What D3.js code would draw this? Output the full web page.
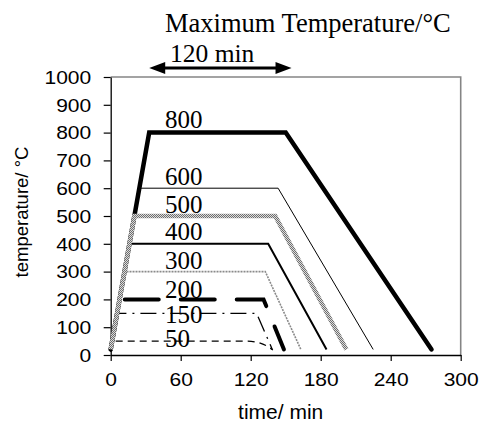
<!DOCTYPE html>
<html>
<head>
<meta charset="utf-8">
<script src="https://cdn.jsdelivr.net/npm/d3@7/dist/d3.min.js"></script>
<style>
body { margin: 0; background: #fff; }
</style>
</head>
<body>
<svg id="chart" width="483" height="429"></svg>
<script>

// heating / holding / cooling profiles, one per maximum temperature
var maxTemps = [800, 600, 500, 400, 300, 200, 150, 50];

var profileTimes = [
	[0, 33, 150, 275],
	[0, 24.5, 143.5, 225],
	[0, 20.3, 141, 202],
	[0, 16.1, 135, 185],
	[0, 11.9, 132.5, 163],
	[0, 7.6, 131, 148.5],
	[0, 5.5, 125, 138.5],
	[0, 1.3, 117, 127, 134, 139]
];

var profileTemps = [
	[20, 800, 800, 20],
	[20, 600, 600, 20],
	[20, 500, 500, 20],
	[20, 400, 400, 20],
	[20, 300, 300, 20],
	[20, 200, 200, 20],
	[20, 150, 150, 20],
	[20, 50, 50, 44, 32, 18]
];

var timeTicks = [0, 60, 120, 180, 240, 300];
var tempTicks = [0, 100, 200, 300, 400, 500, 600, 700, 800, 900, 1000];

// the "120 min" hold marker, in minutes
var holdStart = 33;
var holdEnd = 155;


var Chart = {

	SERIF: "'Liberation Serif', 'Times New Roman', serif",
	SANS: "'Liberation Sans', Arial, sans-serif",

	LEFT: 110.7,
	RIGHT: 460.7,
	TOP: 77,
	BOTTOM: 355,

	TICK_SCALE: 1.2,

	// drawn in this order, 500 goes on top like in the original
	DRAW_ORDER: [800, 600, 400, 300, 200, 150, 50, 500],

	STYLES: {
		800: { stroke: "#000", width: 4.5, cap: "round" },
		600: { stroke: "#000", width: 1 },
		500: { stroke: "url(#checker)", width: 4.5 },
		400: { stroke: "#000", width: 2 },
		300: { stroke: "#8a8a8a", width: 1.6, dash: "2,1" },
		200: { stroke: "#000", width: 4, dash: "34,22", cap: "round", offset: 0 },
		150: { stroke: "#000", width: 1.3, dash: "16,6,2,6" },
		50:  { stroke: "#000", width: 1.3, dash: "7,5", smooth: true }
	},

	// label baseline shift from the plateau, px
	LABEL_SHIFT: { 800: -5, 600: -3, 500: -3, 400: -3.5, 300: -2.5, 200: -1.5, 150: 10, 50: 6 },
	LABEL_X: 165,

	render: function() {
		var svg = d3.select("#chart");

		var x = d3.scaleLinear().domain([0, 300]).range([this.LEFT, this.RIGHT]);
		var y = d3.scaleLinear().domain([0, 1000]).range([this.BOTTOM, this.TOP]);

		this.drawDefs(svg);
		this.drawFrame(svg);
		this.drawAxes(svg, x, y);
		this.drawProfiles(svg, x, y);
		this.drawLabels(svg, x, y);
		this.drawHoldArrow(svg, x);
	},

	drawDefs: function(svg) {
		var pat = svg.append("defs").append("pattern")
			.attr("id", "checker")
			.attr("width", 2).attr("height", 2)
			.attr("patternUnits", "userSpaceOnUse");
		pat.append("rect").attr("width", 2).attr("height", 2).attr("fill", "#dcdcdc");
		pat.append("rect").attr("width", 1).attr("height", 1).attr("fill", "#6e6e6e");
		pat.append("rect").attr("x", 1).attr("y", 1).attr("width", 1).attr("height", 1).attr("fill", "#6e6e6e");
	},

	drawFrame: function(svg) {
		svg.append("path")
			.attr("d", "M" + this.LEFT + "," + this.TOP + "H" + this.RIGHT + "V" + this.BOTTOM)
			.attr("fill", "none")
			.attr("stroke", "#858585")
			.attr("stroke-width", 1.6);
	},

	drawAxes: function(svg, x, y) {
		var me = this;

		var xAxis = svg.append("g")
			.attr("transform", "translate(0," + this.BOTTOM + ")")
			.call(d3.axisBottom(x).tickValues(timeTicks).tickFormat(d3.format("d"))
				.tickSize(6).tickSizeOuter(0));

		var yAxis = svg.append("g")
			.attr("transform", "translate(" + this.LEFT + ",0)")
			.call(d3.axisLeft(y).tickValues(tempTicks).tickFormat(d3.format("d"))
				.tickSize(7).tickSizeOuter(0));

		[xAxis, yAxis].forEach(function(g) {
			g.attr("font-family", null).attr("font-size", null);
			g.select(".domain").attr("stroke", "#000").attr("stroke-width", 1.3);
			g.selectAll(".tick line").attr("stroke", "#000").attr("stroke-width", 1.2);
			g.selectAll(".tick text")
				.attr("font-family", me.SANS)
				.attr("font-size", "17.5px")
				.attr("fill", "#000");
		});

		xAxis.selectAll(".tick text")
			.attr("y", 0).attr("dy", 0)
			.attr("transform", "translate(0,30.5) scale(" + this.TICK_SCALE + ",1)");

		yAxis.selectAll(".tick text")
			.attr("x", 0).attr("dy", "0.36em")
			.attr("transform", "translate(-19.5,0) scale(" + this.TICK_SCALE + ",1)");

		// axis titles
		svg.append("text")
			.attr("x", (this.LEFT + this.RIGHT) / 2 - 5)
			.attr("y", 419)
			.attr("text-anchor", "middle")
			.attr("font-family", this.SANS)
			.attr("font-size", "21px")
			.text("time/ min");

		svg.append("text")
			.attr("transform", "translate(28," + 212 + ") rotate(-90)")
			.attr("text-anchor", "middle")
			.attr("font-family", this.SANS)
			.attr("font-size", "18.5px")
			.text("temperature/ °C");
	},

	drawProfiles: function(svg, x, y) {
		var me = this;

		this.DRAW_ORDER.forEach(function(temp) {
			var i = maxTemps.indexOf(temp);
			var style = me.STYLES[temp];
			var pts = profileTimes[i].map(function(t, k) { return [t, profileTemps[i][k]]; });

			var line = d3.line()
				.x(function(d) { return x(d[0]); })
				.y(function(d) { return y(d[1]); })
				.curve(style.smooth ? d3.curveMonotoneX : d3.curveLinear);

			svg.append("path")
				.attr("d", line(pts))
				.attr("fill", "none")
				.attr("stroke", style.stroke)
				.attr("stroke-width", style.width)
				.attr("stroke-dasharray", style.dash || null)
				.attr("stroke-dashoffset", style.offset || null)
				.attr("stroke-linecap", style.cap || "butt")
				.attr("stroke-linejoin", "miter");
		});
	},

	drawLabels: function(svg, x, y) {
		var me = this;

		svg.selectAll("text.maxlabel")
			.data(maxTemps)
			.enter().append("text")
			.attr("class", "maxlabel")
			.attr("x", this.LABEL_X)
			.attr("y", function(d) { return y(d) + me.LABEL_SHIFT[d]; })
			.attr("font-family", this.SERIF)
			.attr("font-size", "25px")
			.attr("fill", "#000")
			.text(function(d) { return String(d); });

		svg.append("text")
			.attr("x", 165)
			.attr("y", 32)
			.attr("font-family", this.SERIF)
			.attr("font-size", "26.5px")
			.text("Maximum Temperature/°C");
	},

	drawHoldArrow: function(svg, x) {
		var ay = 68;
		var x0 = x(holdStart);
		var x1 = x(holdEnd);
		var headLen = 16, headHalf = 6;

		svg.append("text")
			.attr("x", 170)
			.attr("y", 62)
			.attr("font-family", this.SERIF)
			.attr("font-size", "25.5px")
			.text("120 min");

		svg.append("line")
			.attr("x1", x0 + headLen - 2).attr("x2", x1 - headLen + 2)
			.attr("y1", ay).attr("y2", ay)
			.attr("stroke", "#000")
			.attr("stroke-width", 3);

		svg.append("path")
			.attr("d", "M" + x0 + "," + ay + "L" + (x0 + headLen) + "," + (ay - headHalf) + "L" + (x0 + headLen) + "," + (ay + headHalf) + "Z" +
				"M" + x1 + "," + ay + "L" + (x1 - headLen) + "," + (ay - headHalf) + "L" + (x1 - headLen) + "," + (ay + headHalf) + "Z")
			.attr("fill", "#000");
	}

};

Chart.render();

</script>
</body>
</html>
